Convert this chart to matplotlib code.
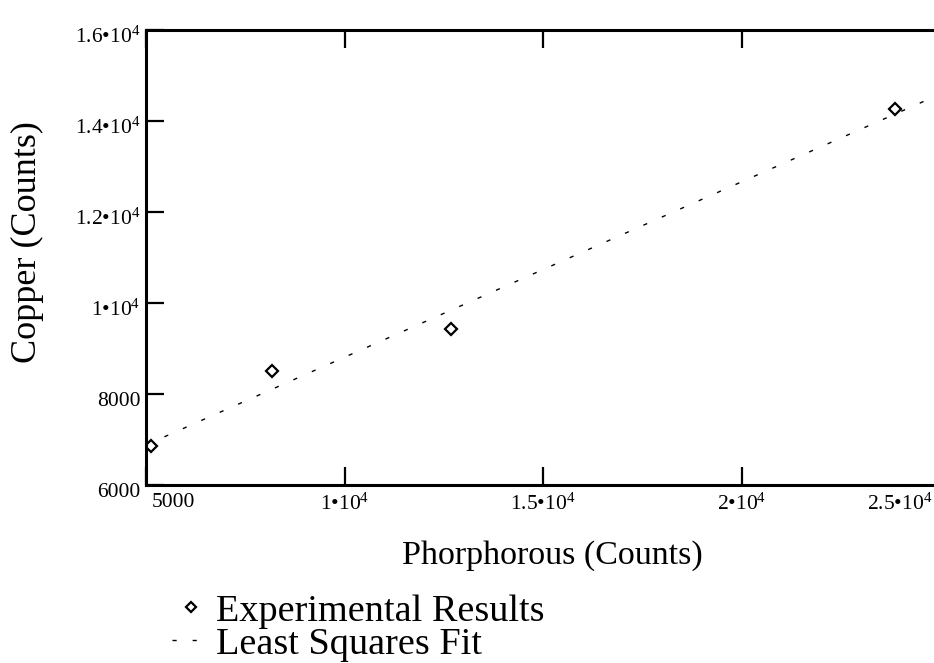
import numpy as np
import matplotlib
matplotlib.use('Agg')
import matplotlib.pyplot as plt
import matplotlib.transforms as mtransforms

plt.rcParams['font.family'] = ['Liberation Serif', 'DejaVu Serif']
plt.rcParams['mathtext.fontset'] = 'custom'
plt.rcParams['mathtext.rm'] = 'Liberation Serif'
plt.rcParams['mathtext.default'] = 'rm'

# data
phosphorus = [5130, 8170, 12680, 23870]
copper = [6850, 8500, 9420, 14260]

x_ticks = [5000, 10000, 15000, 20000, 25000]
x_labels = ['5000', '1•10$^{4}$', '1.5•10$^{4}$', '2•10$^{4}$', '2.5•10$^{4}$']
y_ticks = [6000, 8000, 10000, 12000, 14000, 16000]
y_labels = ['6000', '8000', '1•10$^{4}$', '1.2•10$^{4}$', '1.4•10$^{4}$', '1.6•10$^{4}$']

fig = plt.figure(figsize=(9.34, 6.63), dpi=100)
W, H = 934, 663
# axes run past the right edge of the figure, like the cropped scan
ax = fig.add_axes([146 / W, 1 - 485 / H, 814 / W, 455 / H])

slope, icpt = np.polyfit(phosphorus, copper, 1)
xfit = np.array([5000, 25500])
ax.plot(xfit, slope * xfit + icpt, color='black', lw=1.0, ls=(0, (3, 11.5)),
        label='Least Squares Fit')
ax.plot(phosphorus, copper, ls='none', marker='D', ms=6, mfc='white', mec='black',
        mew=1.6, label='Experimental Results')

ax.set_xlim(5000, 25500)
ax.set_ylim(6000, 16000)
ax.set_xticks(x_ticks)
ax.set_xticklabels(x_labels)
ax.set_yticks(y_ticks)
ax.set_yticklabels(y_labels)

for s in ax.spines.values():
    s.set_linewidth(2.2)
ax.tick_params(direction='in', length=13, width=1.6, top=True, right=True,
               labelsize=15.5, pad=4)
ax.tick_params(axis='x', pad=6)

# first x label sits right of its tick, last one left of it
xl = ax.get_xticklabels()
xl[0].set_ha('left')
xl[0].set_transform(xl[0].get_transform() + mtransforms.ScaledTranslation(6 / 100, 0, fig.dpi_scale_trans))
xl[-1].set_ha('right')
xl[-1].set_transform(xl[-1].get_transform() + mtransforms.ScaledTranslation(-8 / 100, 0, fig.dpi_scale_trans))
for lab in ax.get_yticklabels():
    lab.set_transform(lab.get_transform() + mtransforms.ScaledTranslation(0, -5 / 100, fig.dpi_scale_trans))

fig.text(552 / W, 1 - 556 / H, 'Phorphorous (Counts)', fontsize=24.5, ha='center', va='center')
fig.text(27 / W, 1 - 242 / H, 'Copper (Counts)', fontsize=26, ha='center', va='center',
         rotation=90)

h, l = ax.get_legend_handles_labels()
ax.legend(h[::-1], l[::-1], loc='upper left', bbox_to_anchor=(172 / W, 1 - 594 / H),
          bbox_transform=fig.transFigure, frameon=False, fontsize=27.5,
          handlelength=1.0, handletextpad=0.15, labelspacing=-0.05,
          borderpad=0, borderaxespad=0, markerscale=0.85)

fig.savefig('out.png', dpi=100)
